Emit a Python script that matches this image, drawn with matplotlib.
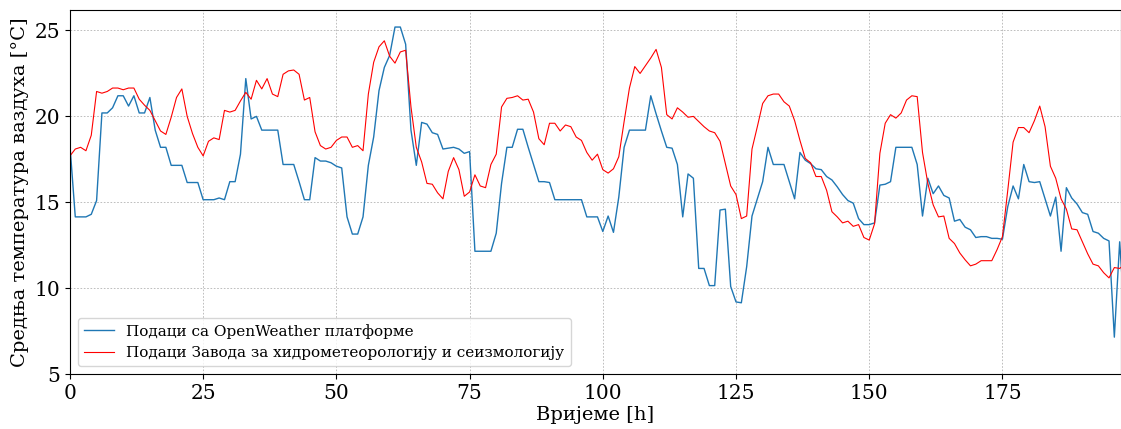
import numpy as np
import matplotlib
matplotlib.use('Agg')
import matplotlib.pyplot as plt

# hourly mean air temperature, hours 0..198
owm_temp = [18.3, 14.15, 14.15, 14.15, 14.3, 15.1, 20.2, 20.2, 20.5, 21.2,
            21.2, 20.6, 21.2, 20.2, 20.2, 21.1, 19.2, 18.2, 18.2, 17.15,
            17.15, 17.15, 16.15, 16.15, 16.15, 15.15, 15.15, 15.15, 15.25, 15.15,
            16.2, 16.2, 17.8, 22.2, 19.85, 20.0, 19.2, 19.2, 19.2, 19.2,
            17.2, 17.2, 17.2, 16.2, 15.15, 15.15, 17.6, 17.4, 17.4, 17.3,
            17.1, 17.0, 14.15, 13.15, 13.15, 14.15, 17.15, 18.8, 21.5, 22.85,
            23.55, 25.2, 25.2, 24.2, 19.2, 17.15, 19.65, 19.55, 19.05, 18.95,
            18.1, 18.15, 18.2, 18.1, 17.85, 17.95, 12.15, 12.15, 12.15, 12.15,
            13.2, 16.1, 18.2, 18.2, 19.25, 19.25, 18.2, 17.2, 16.2, 16.2,
            16.15, 15.15, 15.15, 15.15, 15.15, 15.15, 15.15, 14.15, 14.15, 14.15,
            13.3, 14.2, 13.25, 15.3, 18.2, 19.2, 19.2, 19.2, 19.2, 21.2,
            20.15, 19.15, 18.2, 18.15, 17.2, 14.15, 16.65, 16.4, 11.15, 11.15,
            10.15, 10.15, 14.55, 14.6, 10.1, 9.2, 9.15, 11.25, 14.2, 15.2,
            16.2, 18.2, 17.2, 17.2, 17.2, 16.2, 15.2, 17.9, 17.45, 17.25,
            16.95, 16.9, 16.5, 16.3, 15.9, 15.45, 15.1, 14.95, 14.05, 13.7,
            13.7, 13.8, 16.0, 16.05, 16.2, 18.2, 18.2, 18.2, 18.2, 17.2,
            14.2, 16.4, 15.5, 15.95, 15.4, 15.25, 13.9, 14.0, 13.55, 13.4,
            12.95, 13.0, 13.0, 12.9, 12.9, 12.85, 14.75, 15.95, 15.2, 17.2,
            16.2, 16.15, 16.2, 15.2, 14.2, 15.3, 12.15, 15.85, 15.25, 14.9,
            14.4, 14.3, 13.3, 13.2, 12.9, 12.75, 7.15, 12.7, 8.0]

rhmz_temp = [17.7, 18.1, 18.2, 18.0, 18.9, 21.45, 21.35, 21.45, 21.65, 21.65,
             21.55, 21.65, 21.65, 21.0, 20.65, 20.35, 19.75, 19.15, 18.95, 19.95,
             21.1, 21.6, 20.0, 19.0, 18.2, 17.7, 18.55, 18.75, 18.65, 20.35,
             20.25, 20.35, 20.9, 21.4, 21.0, 22.1, 21.6, 22.2, 21.3, 21.15,
             22.45, 22.65, 22.7, 22.45, 20.95, 21.1, 19.1, 18.3, 18.1, 18.2,
             18.6, 18.8, 18.8, 18.2, 18.3, 18.0, 21.3, 23.15, 24.05, 24.4,
             23.5, 23.1, 23.75, 23.85, 20.55, 18.2, 17.35, 16.1, 16.05, 15.55,
             15.2, 16.8, 17.6, 16.9, 15.35, 15.6, 16.6, 15.95, 15.85, 17.2,
             17.8, 20.55, 21.05, 21.1, 21.2, 20.95, 21.0, 20.25, 18.7, 18.35,
             19.6, 19.6, 19.15, 19.5, 19.4, 18.8, 18.6, 17.9, 17.45, 17.8,
             16.9, 16.7, 16.95, 17.65, 19.7, 21.65, 22.9, 22.5, 22.95, 23.4,
             23.9, 22.85, 20.1, 19.85, 20.5, 20.25, 19.95, 20.0, 19.7, 19.4,
             19.15, 19.05, 18.55, 17.25, 15.95, 15.45, 14.05, 14.2, 18.1, 19.4,
             20.75, 21.2, 21.3, 21.3, 20.85, 20.6, 19.75, 18.6, 17.55, 17.3,
             16.5, 16.5, 15.7, 14.45, 14.15, 13.8, 13.9, 13.6, 13.7, 12.95,
             12.8, 13.75, 17.85, 19.6, 20.1, 19.9, 20.2, 20.95, 21.2, 21.15,
             17.9, 16.1, 14.85, 14.15, 14.2, 12.9, 12.6, 12.05, 11.65, 11.3,
             11.4, 11.6, 11.6, 11.6, 12.25, 13.0, 15.7, 18.5, 19.35, 19.35,
             19.05, 19.75, 20.6, 19.4, 17.1, 16.4, 15.2, 14.6, 13.45, 13.4,
             12.7, 12.0, 11.4, 11.3, 10.9, 10.6, 11.2, 11.15, 11.4]

hours = np.arange(len(owm_temp))

plt.rcParams['font.family'] = ['DejaVu Serif']

fig = plt.figure(figsize=(11.21, 4.29), dpi=100)
ax = fig.add_subplot(111)
fig.subplots_adjust(left=0.0624, right=1.0, top=0.977, bottom=0.128)

ax.plot(hours, owm_temp, color='#1f77b4', linewidth=1.0,
        label='Подаци са OpenWeather платформе')
ax.plot(hours, rhmz_temp, color='red', linewidth=0.8,
        label='Подаци Завода за хидрометеорологију и сеизмологију')

ax.set_xlim(0, 197.25)
ax.set_ylim(5, 26.2)
ax.set_xticks([0, 25, 50, 75, 100, 125, 150, 175])
ax.set_yticks([5, 10, 15, 20, 25])
ax.tick_params(labelsize=14.5)
ax.grid(True, linestyle=(0, (2, 2)), linewidth=0.6, color='0.7')
ax.set_xlabel('Вријеме [h]', fontsize=14, labelpad=2)
ax.set_ylabel('Средња температура ваздуха [°C]', fontsize=14, labelpad=4)
ax.legend(loc='lower left', fontsize=11)

fig.savefig('out.png', dpi=100)
